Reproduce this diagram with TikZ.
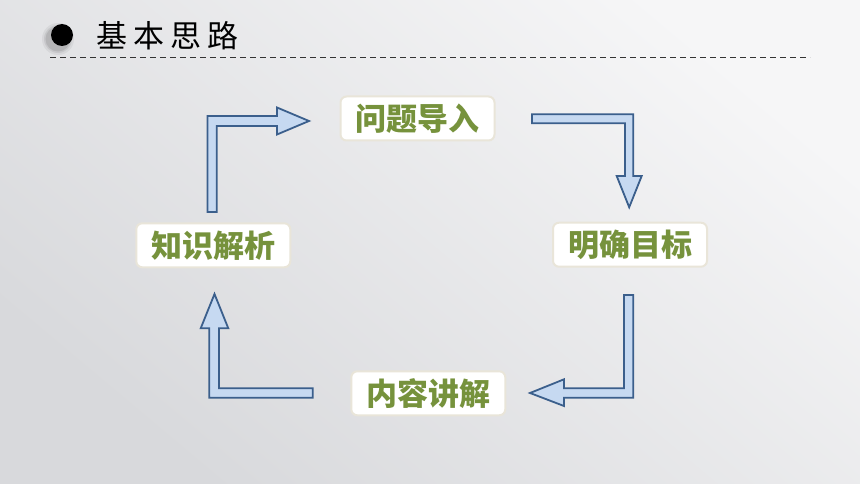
\documentclass[tikz,border=0pt]{standalone}
\usepackage{fontspec}
\newfontfamily\cjk{Noto Sans CJK SC}
\usetikzlibrary{calc}
\definecolor{bgtop}{HTML}{F6F6F7}
\definecolor{bgbot}{HTML}{D8D9DC}
\definecolor{boxline}{HTML}{E9E5D9}
\definecolor{txtgreen}{HTML}{76923C}
\definecolor{arrfill}{HTML}{C6D9F1}
\definecolor{arrline}{HTML}{3B5F8C}
\tikzset{
  stepbox/.style={rounded corners=6pt, fill=white, draw=boxline, line width=2pt,
    minimum width=154pt, minimum height=44pt, inner sep=0pt,
    font=\cjk\bfseries\fontsize{31}{31}\selectfont, text=txtgreen},
  blockarrow/.style={fill=arrfill, draw=arrline, line width=1.8pt, line join=miter},
}
\begin{document}
\begin{tikzpicture}[x=1pt,y=-1pt]
\useasboundingbox (0,0) rectangle (860,484);
\shade[top color=bgtop, bottom color=bgbot, shading angle=-40] (0,0) rectangle (860,484);
% title
\foreach \r/\o in {16/0.05,14/0.07,12.5/0.09}{
  \fill[black,opacity=\o] (58,39) circle (\r);}
\fill[black] (62,35) circle (11);
\node[anchor=west, inner sep=0pt, font=\cjk\fontsize{31}{31}\selectfont] (title) at (96,36)
  {基\hspace{6pt}本\hspace{6pt}思\hspace{6pt}路};
\draw[black!80, line width=1pt, dash pattern=on 6pt off 4pt] (50,58) coordinate (dl) -- (810,58) coordinate (dr);
% boxes
\node[stepbox] (wt) at (417.5,118.5) {问题导入};
\node[stepbox] (mb) at (630,244.7) {明确目标};
\node[stepbox] (zs) at (213.3,245.3) {知识解析};
\node[stepbox] (nr) at (428.3,393.3) {内容讲解};
% block arrows
\draw[blockarrow] (207.5,212) -- (207.5,116) -- (277,116) -- (277,107.5) -- (309,121)
  -- (277,134.5) -- (277,126) -- (216.7,126) -- (216.7,212) -- cycle;
\draw[blockarrow] (532,114.3) -- (633.3,114.3) -- (633.3,176) -- (641.7,176) -- (629.2,207.3)
  -- (616.7,176) -- (625,176) -- (625,123.3) -- (532,123.3) -- cycle;
\draw[blockarrow] (624,295) -- (633.3,295) -- (633.3,397.7) -- (564,397.7) -- (564,406)
  -- (530,393) -- (564,379.3) -- (564,388.3) -- (624,388.3) -- cycle;
\draw[blockarrow] (312.7,388.3) -- (312.7,397.7) -- (209.3,397.7) -- (209.3,328.3) -- (200.7,328.3)
  -- (214.5,294) -- (228.3,328.3) -- (219,328.3) -- (219,388.3) -- cycle;
\end{tikzpicture}
\end{document}
